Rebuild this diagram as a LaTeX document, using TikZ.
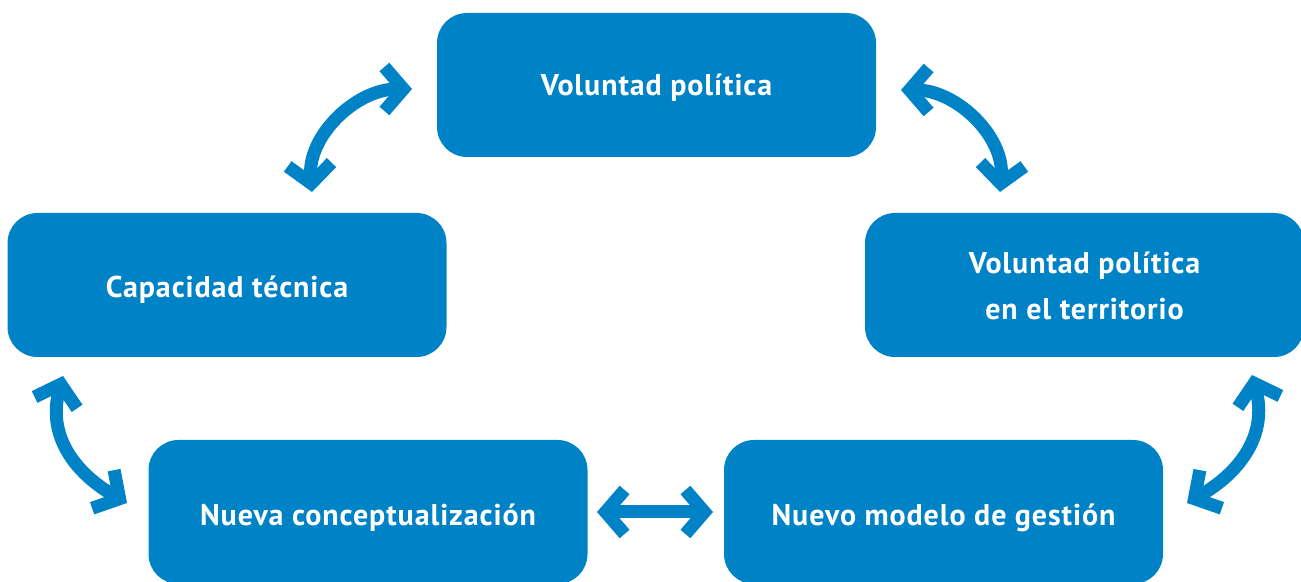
\documentclass[tikz,border=0pt]{standalone}
\usepackage{fontspec}
\setmainfont{PT Sans}[LetterSpace=3]
\usetikzlibrary{arrows.meta}
\definecolor{cblue}{HTML}{0082C6}
\begin{document}
\begin{tikzpicture}[x=1pt,y=1pt,
  box/.style={fill=cblue, rounded corners=30pt, minimum width=439pt, minimum height=144pt,
    inner sep=0pt},
  lbl/.style={text=white, font=\fontsize{30}{46}\selectfont\bfseries, align=center, inner sep=0pt, anchor=base},
  arr/.style={draw=cblue, line width=13pt, {Straight Barb[length=19pt,width=44pt,line width=13pt]}-{Straight Barb[length=19pt,width=44pt,line width=13pt]}}]
\useasboundingbox (0,0) rectangle (1301,581);
\node[box] (top) at (656.5,496) {};
\node[box] (left) at (227,296) {};
\node[box] (right) at (1084.5,296) {};
\node[box] (bl) at (368,69) {};
\node[box] (br) at (943.5,69) {};
\node[lbl] (ttop) at ([yshift=-11pt]top.center) {Voluntad política};
\node[lbl] (tleft) at ([yshift=-13pt]left.center) {Capacidad técnica};
\node[lbl] (tright) at ([yshift=-35pt]right.center) {Voluntad política\\en el territorio};
\node[lbl] (tbl) at ([yshift=-13pt]bl.center) {Nueva conceptualización};
\node[lbl] (tbr) at ([yshift=-13pt]br.center) {Nuevo modelo de gestión};
% arrow end points
\coordinate (a1s) at (312,389);
\coordinate (a1e) at (412,492);
\coordinate (a2s) at (901,491);
\coordinate (a2e) at (1000,389);
\coordinate (a3s) at (63,205);
\coordinate (a3e) at (127,78);
\coordinate (a4s) at (1252,206);
\coordinate (a4e) at (1187,78);
\coordinate (a5s) at (597,69);
\coordinate (a5e) at (713,69);
\draw[arr] (a1s) to[out=95,in=180] (a1e);
\draw[arr] (a2s) to[out=0,in=85] (a2e);
\draw[arr] (a3s) to[out=-105,in=150,looseness=1.1] (a3e);
\draw[arr] (a4s) to[out=-75,in=30,looseness=1.1] (a4e);
\draw[arr] (a5s) -- (a5e);
\end{tikzpicture}
\end{document}
